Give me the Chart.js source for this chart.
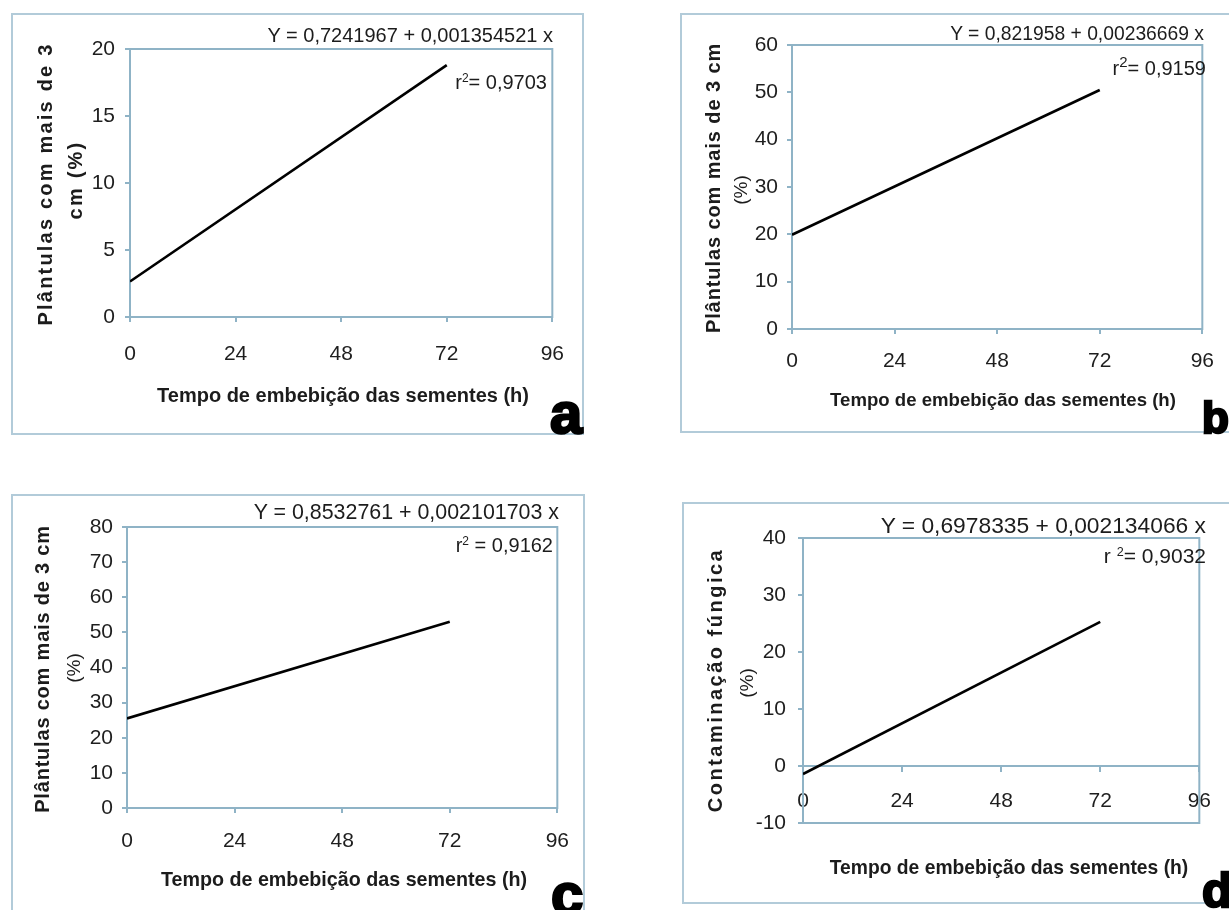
<!DOCTYPE html>
<html>
<head>
<meta charset="utf-8">
<script src="https://cdn.jsdelivr.net/npm/chart.js@4.4.1/dist/chart.umd.min.js"></script>
<style>
html,body{margin:0;padding:0;background:#fff;}
body{width:1229px;height:910px;overflow:hidden;position:relative;font-family:'Liberation Sans',Arial,sans-serif;color:#1c1c1c;}
.box{position:absolute;border:2px solid #b2cbd9;box-sizing:border-box;}
canvas{position:absolute;}
.t{position:absolute;white-space:nowrap;line-height:1;}
.rot{position:absolute;white-space:nowrap;line-height:1;transform:translate(-50%,-50%) rotate(-90deg);}
.letter{position:absolute;white-space:nowrap;line-height:1;font-weight:bold;color:#000;-webkit-text-stroke:2.5px #000;}
sup{font-size:0.6em;line-height:0;vertical-align:0.55em;}
</style>
</head>
<body>
<script>
// ---- data ----
const hours = [0, 72];
const plantulasA = [2.65, 18.8];
const plantulasB = [19.9, 50.5];
const plantulasC = [25.5, 53.0];
const contaminacaoD = [-1.4, 25.3];
const xTickValues = [0, 24, 48, 72, 96];
const yTicksA = [0, 5, 10, 15, 20];
const yTicksB = [0, 10, 20, 30, 40, 50, 60];
const yTicksC = [0, 10, 20, 30, 40, 50, 60, 70, 80];
const yTicksD = [-10, 0, 10, 20, 30, 40];
const equations = [
  'Y = 0,7241967 + 0,001354521 x',
  'Y = 0,821958 + 0,00236669 x',
  'Y = 0,8532761 + 0,002101703 x',
  'Y = 0,6978335 + 0,002134066 x'
];
const r2Values = ['0,9703', '0,9159', '0,9162', '0,9032'];
const xTitle = 'Tempo de embebição das sementes (h)';
const yTitleLines = [
  ['Plântulas com mais de 3', 'cm (%)'],
  ['Plântulas com mais de 3 cm', '(%)'],
  ['Plântulas com mais de 3 cm', '(%)'],
  ['Contaminação fúngica', '(%)']
];
const panelLetters = ['a', 'b', 'c', 'd'];
const panelValues = [plantulasA, plantulasB, plantulasC, contaminacaoD];
const panelYTicks = [yTicksA, yTicksB, yTicksC, yTicksD];

// ---- layout (positions / styles only) ----
const AX = '#8fb3c6';
const TICK_FONT = {family: "'Liberation Sans Narrow','Liberation Sans',Arial,sans-serif", size: 21};
const TICK_COLOR = '#1e1e1e';
const layout = [
  {box:{l:11,t:13,r:584,b:435}, area:{l:130,t:49,r:556,b:317}, xPad:20, yPad:10, floatX:false,
   eq:{r:553,cy:35,s:20}, r2:{r:547,cy:82,s:20,sep:'= '},
   xt:{cx:343,cy:395,s:20},
   yt:[{cx:45,cy:184,s:20,ls:2.2,w:'bold'},{cx:75,cy:180,s:20,ls:2.2,w:'bold'}],
   letter:{l:550,base:433,s:58}},
  {box:{l:680,t:13,r:1240,b:433}, area:{l:792,t:45,r:1213,b:329}, xPad:15, yPad:9, floatX:false,
   eq:{r:1204,cy:33,s:19.3}, r2:{r:1206,cy:68,s:20,sep:'= ',big:true},
   xt:{cx:1003,cy:400,s:18.6},
   yt:[{cx:713,cy:188,s:20,ls:0.9,w:'bold'},{cx:740,cy:190,s:19,ls:0,w:'normal'}],
   letter:{l:1202,base:433,s:44}},
  {box:{l:11,t:494,r:585,b:930}, area:{l:127,t:527,r:561,b:808}, xPad:16, yPad:9, floatX:false,
   eq:{r:559,cy:512,s:21.4}, r2:{r:553,cy:545,s:20,sep:' = '},
   xt:{cx:344,cy:880,s:19.7},
   yt:[{cx:42,cy:669,s:20,ls:0.8,w:'bold'},{cx:73,cy:668,s:19,ls:0,w:'normal'}],
   letter:{l:551,base:914,s:58}},
  {box:{l:682,t:502,r:1240,b:904}, area:{l:803,t:538,r:1213,b:823}, xPad:18, yPad:12, floatX:true,
   eq:{r:1206,cy:525,s:22.8}, r2:{r:1206,cy:555,s:21,sep:'= ',pre:' '},
   xt:{cx:1009,cy:867,s:19.3},
   yt:[{cx:715,cy:680,s:20,ls:2.5,w:'bold'},{cx:746,cy:683,s:19,ls:0,w:'normal'}],
   letter:{l:1202,base:907,s:49}}
];

const frame = {
  id:'frame',
  beforeDatasetsDraw(chart){
    const a = chart.chartArea, c = chart.ctx;
    c.save(); c.strokeStyle = AX; c.lineWidth = 2;
    c.strokeRect(a.left, a.top, a.right - a.left, a.bottom - a.top);
    c.restore();
  }
};

function el(cls, html, css){
  const d = document.createElement('div');
  d.className = cls; d.innerHTML = html;
  Object.assign(d.style, css);
  document.body.appendChild(d);
  return d;
}

layout.forEach((p, i) => {
  el('box', '', {left:p.box.l+'px', top:p.box.t+'px', width:(p.box.r-p.box.l)+'px', height:(p.box.b-p.box.t)+'px'});
  const cl = p.box.l, ct = p.box.t, cr = Math.min(p.box.r, 1229), cb = Math.min(p.box.b, 910);
  const cv = document.createElement('canvas');
  cv.width = cr - cl; cv.height = cb - ct;
  cv.style.left = cl + 'px'; cv.style.top = ct + 'px';
  cv.style.width = (cr - cl) + 'px'; cv.style.height = (cb - ct) + 'px';
  document.body.appendChild(cv);
  const yW = p.area.l - cl, xH = cb - p.area.b;
  const vals = panelValues[i], yT = panelYTicks[i];
  const gridOpts = {display:true, drawOnChartArea:false, drawTicks:true, tickLength:5, color:AX, lineWidth:2};
  new Chart(cv, {
    type:'line',
    data:{datasets:[{data: hours.map((h, k) => ({x:h, y:vals[k]})), borderColor:'#000', borderWidth:2.6,
      pointRadius:0, fill:false, tension:0}]},
    options:{
      responsive:false, animation:false, devicePixelRatio:1,
      layout:{padding:{left:0, top:p.area.t - ct, right:cr - p.area.r, bottom: p.floatX ? (cb - p.area.b) : 0}},
      plugins:{legend:{display:false}, tooltip:{enabled:false}},
      scales:{
        x:{type:'linear', min:xTickValues[0], max:xTickValues[xTickValues.length-1],
           position: p.floatX ? {y:0} : 'bottom',
           afterBuildTicks: s => { s.ticks = xTickValues.map(v => ({value:v})); },
           afterFit: s => { if (!p.floatX) s.height = xH; },
           grid: gridOpts, border:{display:true, color:AX, width:2},
           ticks:{font:TICK_FONT, color:TICK_COLOR, padding:p.xPad, maxRotation:0, autoSkip:false}},
        y:{type:'linear', min:yT[0], max:yT[yT.length-1], position:'left',
           afterBuildTicks: s => { s.ticks = yT.map(v => ({value:v})); },
           afterFit: s => { s.width = yW; },
           grid: gridOpts, border:{display:true, color:AX, width:2},
           ticks:{font:TICK_FONT, color:TICK_COLOR, padding:p.yPad, autoSkip:false}}
      }
    },
    plugins:[frame]
  });

  // equation
  el('t', equations[i], {right:(1229 - p.eq.r)+'px', top:(p.eq.cy - 0.49*p.eq.s)+'px', fontSize:p.eq.s+'px'});
  // r2
  const sup = p.r2.big ? '<sup style="font-size:0.75em">2</sup>' : '<sup>2</sup>';
  el('t', 'r' + (p.r2.pre || '') + sup + p.r2.sep + r2Values[i],
     {right:(1229 - p.r2.r)+'px', top:(p.r2.cy - 0.49*p.r2.s)+'px', fontSize:p.r2.s+'px'});
  // x title
  el('t', xTitle, {left:p.xt.cx+'px', top:(p.xt.cy - 0.49*p.xt.s)+'px', fontSize:p.xt.s+'px',
     fontWeight:'bold', transform:'translateX(-50%)'});
  // y title lines
  p.yt.forEach((y, k) => {
    el('rot', yTitleLines[i][k], {left:y.cx+'px', top:y.cy+'px', fontSize:y.s+'px', letterSpacing:y.ls+'px', fontWeight:y.w});
  });
  // panel letter
  el('letter', panelLetters[i], {left:p.letter.l+'px', top:(p.letter.base - 0.8465*p.letter.s)+'px', fontSize:p.letter.s+'px'});
});
</script>
</body>
</html>
